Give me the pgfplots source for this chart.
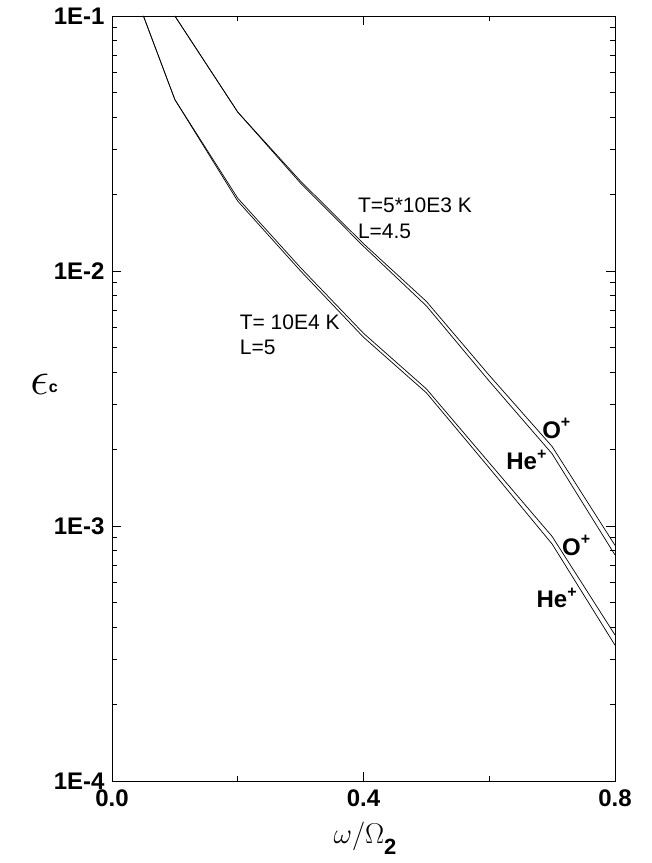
\documentclass[border=0pt]{standalone}
\usepackage{graphicx}
\usepackage{pgfplots}
\pgfplotsset{compat=1.18}
\usepackage{fontspec}
\setmainfont{Liberation Sans}
\pgfplotstableread{
x y
0.1 0.1
0.2 0.042
0.3 0.0225
0.4 0.0128
0.5 0.0076
0.6 0.0039
0.7 0.00205
0.8 0.00084
}\upperO
\pgfplotstableread{
x y
0.1 0.1
0.2 0.042
0.3 0.0221
0.4 0.0125
0.5 0.0073
0.6 0.0037
0.7 0.00192
0.8 0.00077
}\upperHe
\pgfplotstableread{
x y
0.05 0.1
0.1 0.047
0.2 0.0193
0.3 0.0103
0.4 0.0057
0.5 0.00345
0.6 0.00177
0.7 0.00091
0.8 0.000374
}\lowerO
\pgfplotstableread{
x y
0.05 0.1
0.1 0.047
0.2 0.0188
0.3 0.0100
0.4 0.0055
0.5 0.00333
0.6 0.00169
0.7 0.00085
0.8 0.000341
}\lowerHe
\begin{document}
\begin{tikzpicture}
\path[use as bounding box] (-112pt,-82pt) rectangle (540pt,781pt);
\begin{axis}[
  at={(0pt,0pt)}, anchor=south west,
  scale only axis, width=503pt, height=765pt,
  ymode=log, xmin=0, xmax=0.8, ymin=1e-4, ymax=1e-1,
  xtick={0,0.4,0.8}, xticklabels={0.0,0.4,0.8},
  minor xtick={0.2,0.6},
  ytick={1e-4,1e-3,1e-2,1e-1}, yticklabels={1E-4,1E-3,1E-2,1E-1},
  tick align=inside, xtick pos=both, ytick pos=both,
  major tick length=9pt, minor tick length=5pt,
  tick style={black, line width=0.6pt},
  axis line style={line width=0.8pt},
  ticklabel style={font=\fontsize{24}{24}\selectfont\bfseries},
  yticklabel style={xshift=-4pt},
  xticklabel style={yshift=-5pt},
  clip=false,
]
\addplot[black, line width=0.7pt] table {\upperO};
\addplot[black, line width=0.7pt] table {\upperHe};
\addplot[black, line width=0.7pt] table {\lowerO};
\addplot[black, line width=0.7pt] table {\lowerHe};

\node[anchor=west, inner sep=0pt, font=\fontsize{21}{21}\selectfont] at (axis cs:0.391,0.0181) {T=5*10E3 K};
\node[anchor=west, inner sep=0pt, font=\fontsize{21}{21}\selectfont] at (axis cs:0.391,0.0143) {L=4.5};
\node[anchor=west, inner sep=0pt, font=\fontsize{21}{21}\selectfont] at (axis cs:0.203,0.00628) {T= 10E4 K};
\node[anchor=west, inner sep=0pt, font=\fontsize{21}{21}\selectfont] at (axis cs:0.203,0.00500) {L=5};

\node[anchor=west, inner sep=0pt, font=\fontsize{24}{24}\selectfont\bfseries] at (axis cs:0.684,0.00242) {O\raisebox{0.45em}{\fontsize{16}{16}\selectfont\bfseries +}};
\node[anchor=west, inner sep=0pt, font=\fontsize{24}{24}\selectfont\bfseries] at (axis cs:0.627,0.001815) {He\raisebox{0.45em}{\fontsize{16}{16}\selectfont\bfseries +}};
\node[anchor=west, inner sep=0pt, font=\fontsize{24}{24}\selectfont\bfseries] at (axis cs:0.7157,0.000841) {O\raisebox{0.45em}{\fontsize{16}{16}\selectfont\bfseries +}};
\node[anchor=west, inner sep=0pt, font=\fontsize{24}{24}\selectfont\bfseries] at (axis cs:0.675,0.000522) {He\raisebox{0.45em}{\fontsize{16}{16}\selectfont\bfseries +}};

\node[anchor=center] at (axis description cs:-0.135,0.518) {\fontsize{24}{24}\selectfont\scalebox{1.9}{$\epsilon$}\raisebox{0.1em}{\fontsize{16}{16}\selectfont\bfseries c}};
\node[anchor=center] at (axis description cs:0.503,-0.075) {\fontsize{24}{24}\selectfont\scalebox{1.15}{$\omega/\Omega$}\raisebox{-0.45em}{\fontsize{22}{22}\selectfont\bfseries 2}};
\end{axis}
\end{tikzpicture}
\end{document}
